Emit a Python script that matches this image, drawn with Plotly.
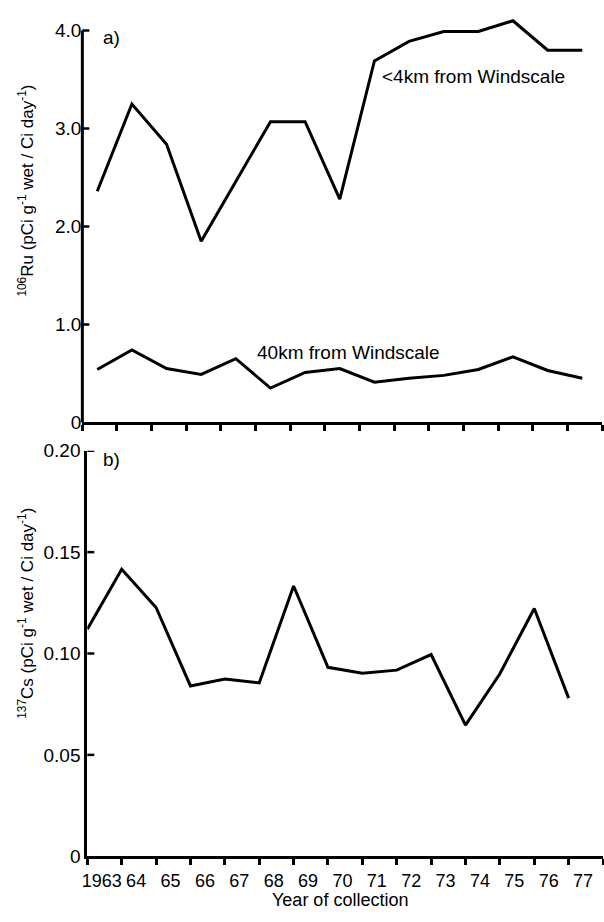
import plotly.graph_objects as go

# Collection years and deposition ratios
years = list(range(1963, 1978))
ru_near = [2.36, 3.25, 2.84, 1.85, 2.46, 3.07, 3.07, 2.28, 3.69, 3.89, 3.99, 3.99, 4.10, 3.80, 3.80]
ru_far = [0.54, 0.74, 0.55, 0.49, 0.65, 0.35, 0.51, 0.55, 0.41, 0.45, 0.48, 0.54, 0.67, 0.53, 0.45]
cs = [0.112, 0.1415, 0.1227, 0.084, 0.0874, 0.0855, 0.1333, 0.0932, 0.0903, 0.0918,
      0.0995, 0.0647, 0.090, 0.1222, 0.078]

ru_ticks = [0, 1.0, 2.0, 3.0, 4.0]
ru_ticktext = ["0", "1.0", "2.0", "3.0", "4.0"]
cs_ticks = [0, 0.05, 0.10, 0.15, 0.20]
cs_ticktext = ["0", "0.05", "0.10", "0.15", "0.20"]
year_labels = ["1963"] + [str(y)[2:] for y in years[1:]]

W, H = 604, 922
FONT = "Liberation Sans, Arial, Helvetica, sans-serif"
FS = 19


def px(x):
    return x / W


def py(y):
    return 1 - y / H


fig = go.Figure()
line = dict(color="black", width=3)
fig.add_trace(go.Scatter(x=years, y=ru_near, mode="lines", line=line,
                         xaxis="x", yaxis="y", showlegend=False))
fig.add_trace(go.Scatter(x=years, y=ru_far, mode="lines", line=line,
                         xaxis="x", yaxis="y", showlegend=False))
fig.add_trace(go.Scatter(x=years, y=cs, mode="lines", line=line,
                         xaxis="x2", yaxis="y2", showlegend=False))

axis_font = dict(family=FONT, size=FS, color="black")
year_font = dict(family=FONT, size=18, color="black")
title_font = dict(family=FONT, size=17, color="black")
xtitle_font = dict(family=FONT, size=18, color="black")

fig.update_layout(
    width=W, height=H,
    margin=dict(l=0, r=0, t=0, b=0),
    paper_bgcolor="white", plot_bgcolor="white",
    font=axis_font,
    # panel a) 106Ru
    xaxis=dict(domain=[px(78), px(602)], anchor="y",
               range=[years[0] - 0.43, years[-1] + 0.57],
               tickmode="linear", tick0=years[0] - 0.43, dtick=1,
               ticks="outside", ticklen=6, tickwidth=2.5, tickcolor="black",
               showticklabels=False, showgrid=False, zeroline=False,
               showline=True, linecolor="black", linewidth=3),
    yaxis=dict(domain=[py(422), py(6)], anchor="x",
               range=[0, 4.15],
               tickmode="array", tickvals=ru_ticks, ticktext=ru_ticktext,
               ticks="", showgrid=False, zeroline=False, showline=False,
               tickfont=axis_font),
    # panel b) 137Cs
    xaxis2=dict(domain=[px(83), px(603)], anchor="y2",
                range=[years[0], years[-1] + 1],
                tickmode="array", tickvals=[y + 0.42 for y in years],
                ticktext=year_labels, ticks="",
                minor=dict(tickmode="linear", tick0=years[0], dtick=1,
                           ticks="outside", ticklen=6, tickwidth=2.5,
                           tickcolor="black", showgrid=False),
                ticklabelstandoff=6,
                showgrid=False, zeroline=False,
                showline=True, linecolor="black", linewidth=3,
                tickfont=year_font),
    yaxis2=dict(domain=[py(866), py(451)], anchor="x2",
                range=[0, 0.20],
                tickmode="array", tickvals=cs_ticks, ticktext=cs_ticktext,
                ticks="", showgrid=False, zeroline=False,
                showline=True, linecolor="black", linewidth=3,
                tickfont=axis_font),
)

# Vertical axis line of panel a) stops at the 4.0 tick
fig.add_shape(type="line", xref="x domain", yref="y",
              x0=0, x1=0, y0=0, y1=ru_ticks[-1],
              line=dict(color="black", width=3))

# Short tick marks pointing into each panel from its vertical axis
for xr, yr, vals in (("x domain", "y", ru_ticks[1:]), ("x2 domain", "y2", cs_ticks[1:])):
    for v in vals:
        fig.add_shape(type="line", xref=xr, yref=yr, xsizemode="pixel", xanchor=0,
                      x0=0, x1=7, y0=v, y1=v,
                      line=dict(color="black", width=2.5))

ann = dict(showarrow=False, font=axis_font)
fig.add_annotation(text="a)", x=px(97), y=py(28), xref="paper", yref="paper",
                   xanchor="left", yanchor="middle", **ann)
fig.add_annotation(text="b)", x=px(97), y=py(460), xref="paper", yref="paper",
                   xanchor="left", yanchor="middle", **ann)
fig.add_annotation(text="<4km from Windscale", x=px(378), y=py(68),
                   xref="paper", yref="paper", xanchor="left", yanchor="middle", **ann)
fig.add_annotation(text="40km from Windscale", x=px(252), y=py(350),
                   xref="paper", yref="paper", xanchor="left", yanchor="middle", **ann)
fig.add_annotation(text="<sup>106</sup>Ru (pCi g<sup>-1</sup> wet / Ci day<sup>-1</sup>)",
                   textangle=-90, x=px(21), y=py(185), xref="paper", yref="paper",
                   xanchor="center", yanchor="middle", showarrow=False, font=title_font)
fig.add_annotation(text="<sup>137</sup>Cs (pCi g<sup>-1</sup> wet / Ci day<sup>-1</sup>)",
                   textangle=-90, x=px(21), y=py(617), xref="paper", yref="paper",
                   xanchor="center", yanchor="middle", showarrow=False, font=title_font)
fig.add_annotation(text="Year of collection", x=px(338), y=0,
                   xref="paper", yref="paper", xanchor="center", yanchor="bottom",
                   borderpad=0, showarrow=False, font=xtitle_font)

fig.write_html("out.html")
